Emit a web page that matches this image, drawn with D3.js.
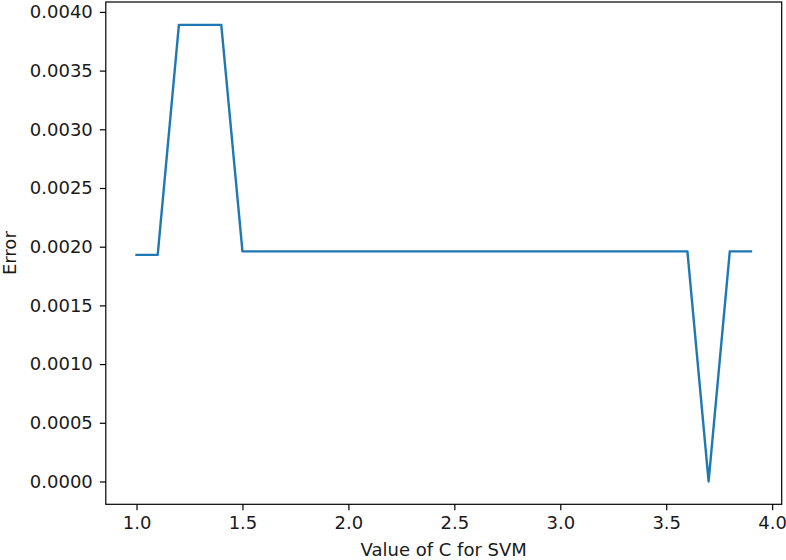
<!DOCTYPE html>
<html>
<head>
<meta charset="utf-8">
<script src="https://cdn.jsdelivr.net/npm/d3@7"></script>
<style>
  body { margin: 0; background: #fff; }
  svg { display: block; font-family: "DejaVu Sans", sans-serif; }
</style>
</head>
<body>
<svg></svg>
<script>
var cValues = [1.0, 1.1, 1.2, 1.3, 1.4, 1.5, 1.6, 1.7, 1.8, 1.9, 2.0, 2.1, 2.2, 2.3, 2.4,
  2.5, 2.6, 2.7, 2.8, 2.9, 3.0, 3.1, 3.2, 3.3, 3.4, 3.5, 3.6, 3.7, 3.8, 3.9];
var errors = [0.00193, 0.00193, 0.00389, 0.00389, 0.00389, 0.00196, 0.00196, 0.00196,
  0.00196, 0.00196, 0.00196, 0.00196, 0.00196, 0.00196, 0.00196, 0.00196, 0.00196,
  0.00196, 0.00196, 0.00196, 0.00196, 0.00196, 0.00196, 0.00196, 0.00196, 0.00196,
  0.00196, 0.0, 0.00196, 0.00196];
var xTicks = [1.0, 1.5, 2.0, 2.5, 3.0, 3.5, 4.0];
var yTicks = [0, 0.0005, 0.001, 0.0015, 0.002, 0.0025, 0.003, 0.0035, 0.004];

var width = 786,
  height = 560,
  plotLeft = 105.8,
  plotRight = 781.7,
  plotTop = 2,
  plotBottom = 504.3;

var svg = d3.select("svg").attr("width", width).attr("height", height);

// matplotlib style 5% margins
var xPad = (d3.max(cValues) - d3.min(cValues)) * 0.05;
var yPad = (d3.max(errors) - d3.min(errors)) * 0.05;

var x = d3
  .scaleLinear()
  .domain([d3.min(cValues) - xPad, d3.max(cValues) + xPad])
  .range([plotLeft, plotRight]);

var y = d3
  .scaleLinear()
  .domain([d3.min(errors) - yPad, d3.max(errors) + yPad])
  .range([plotBottom, plotTop]);

var line = d3
  .line()
  .x(function (d, i) {
    return x(cValues[i]);
  })
  .y(function (d) {
    return y(d);
  });

svg
  .append("path")
  .datum(errors)
  .attr("d", line)
  .attr("fill", "none")
  .attr("stroke", "#1f77b4")
  .attr("stroke-width", 2.4)
  .attr("stroke-linejoin", "round")
  .attr("stroke-linecap", "square");

var xAxis = svg
  .append("g")
  .attr("transform", "translate(0," + plotBottom + ")")
  .call(
    d3.axisBottom(x)
      .tickValues(xTicks)
      .tickFormat(d3.format(".1f"))
      .tickSize(6)
      .tickPadding(6)
  );

var yAxis = svg
  .append("g")
  .attr("transform", "translate(" + plotLeft + ",0)")
  .call(
    d3.axisLeft(y)
      .tickValues(yTicks)
      .tickFormat(d3.format(".4f"))
      .tickSize(6)
      .tickPadding(7)
  );

[xAxis, yAxis].forEach(function (g) {
  g.select(".domain").remove();
  g.selectAll(".tick line").attr("stroke", "#000").attr("stroke-width", 1.2);
  g.selectAll(".tick text")
    .attr("fill", "#1a1a1a")
    .attr("font-size", "18px")
    .attr("font-family", "DejaVu Sans");
});

// frame
svg
  .append("rect")
  .attr("x", plotLeft)
  .attr("y", plotTop)
  .attr("width", plotRight - plotLeft)
  .attr("height", plotBottom - plotTop)
  .attr("fill", "none")
  .attr("stroke", "#000")
  .attr("stroke-width", 1.2);

svg
  .append("text")
  .attr("x", (plotLeft + plotRight) / 2)
  .attr("y", 556)
  .attr("text-anchor", "middle")
  .attr("font-size", "18px")
  .attr("fill", "#1a1a1a")
  .text("Value of C for SVM");

svg
  .append("text")
  .attr("transform", "translate(16," + (plotTop + plotBottom) / 2 + ") rotate(-90)")
  .attr("text-anchor", "middle")
  .attr("font-size", "18px")
  .attr("fill", "#1a1a1a")
  .text("Error");
</script>
</body>
</html>
